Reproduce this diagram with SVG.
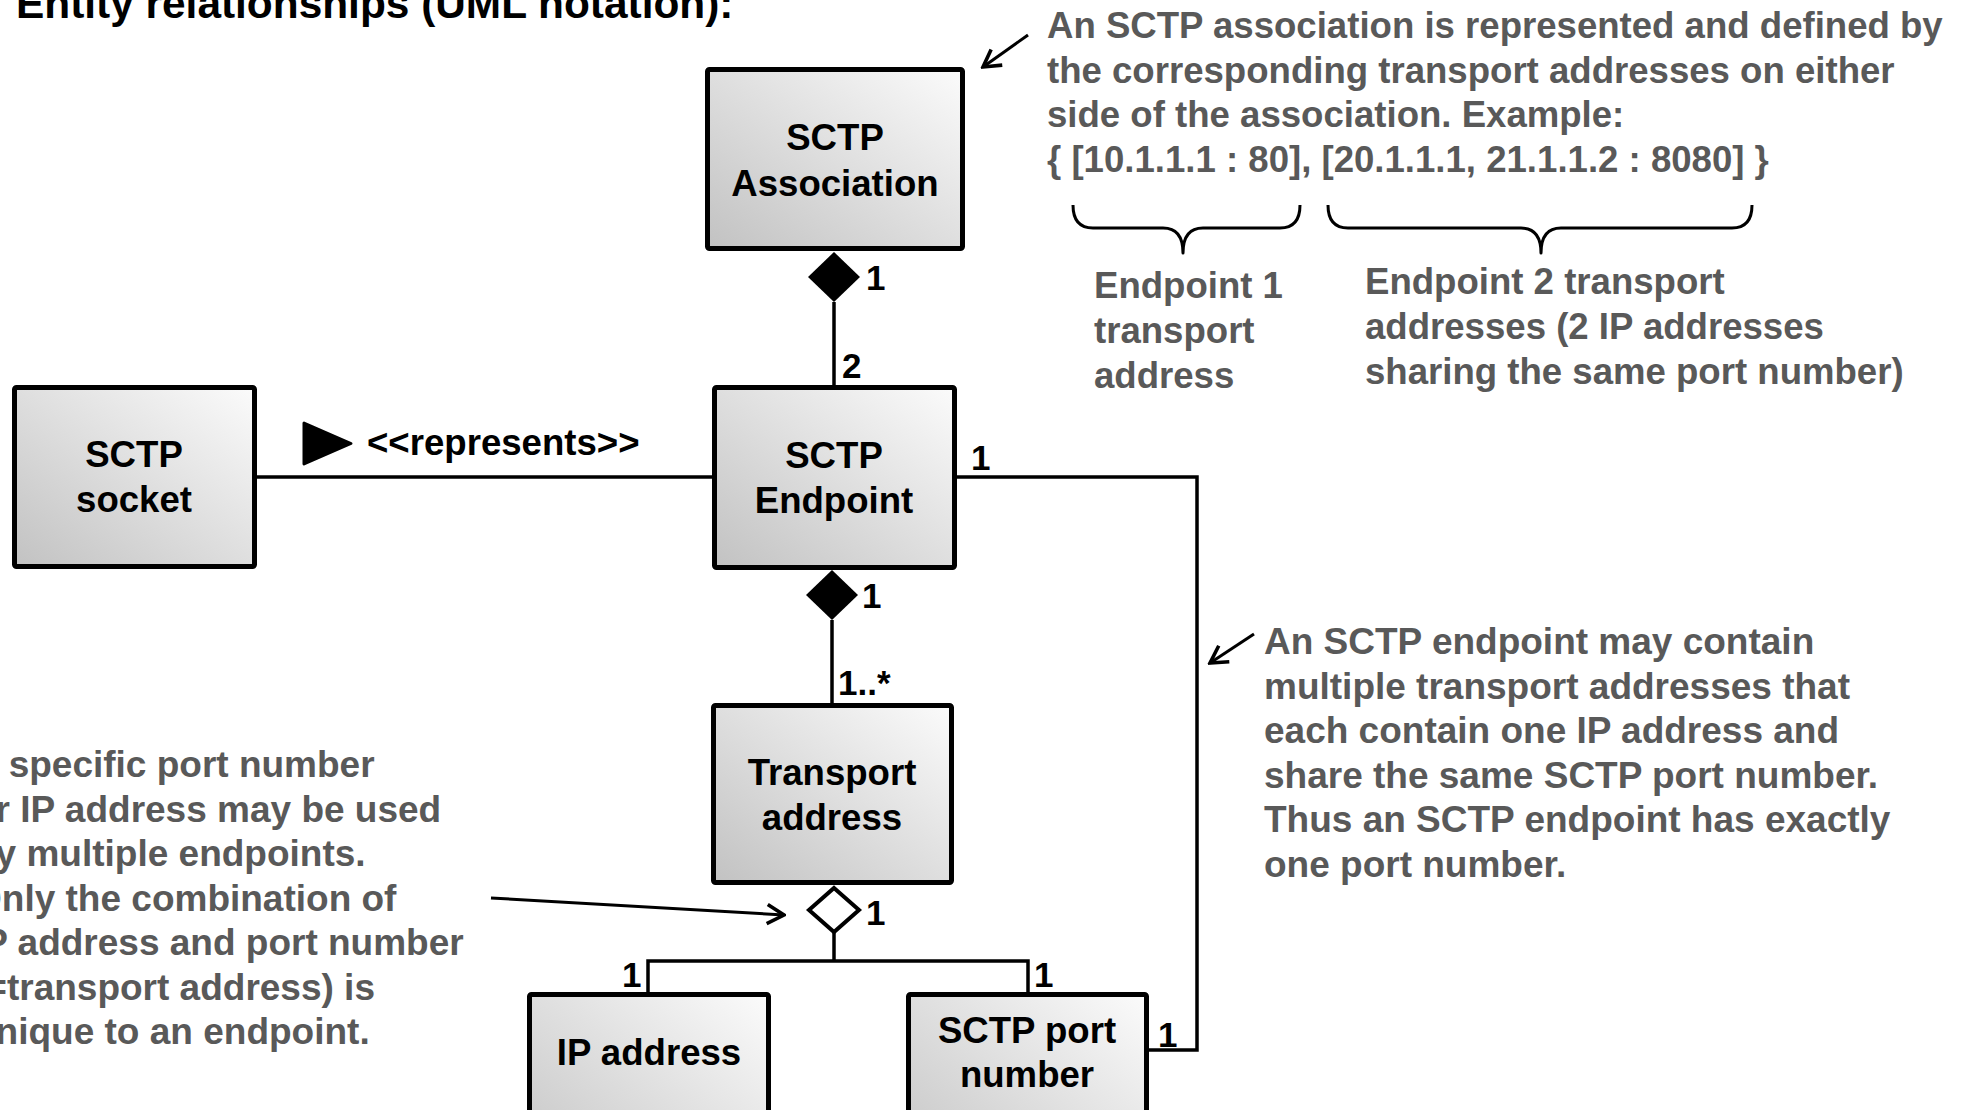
<svg xmlns="http://www.w3.org/2000/svg" width="1970" height="1110" viewBox="0 0 1970 1110">
  <style>
    text { font-family: "Liberation Sans", Arial, sans-serif; font-weight: bold; }
    .box { stroke: #000; stroke-width: 5; fill: url(#boxgrad); }
    .btxt { font-size: 36.6px; fill: #000; text-anchor: middle; }
    .note { font-size: 36.6px; fill: #595959; }
    .note2 { font-size: 37px; fill: #595959; }
    .lbl { font-size: 35px; fill: #000; }
    .line { stroke: #000; stroke-width: 3.5; fill: none; }
    .arr { stroke: #000; stroke-width: 3; fill: none; marker-end: url(#openhead); }
    .brace { stroke: #000; stroke-width: 3; fill: none; stroke-linejoin: round; }
  </style>
  <defs>
    <linearGradient id="boxgrad" x1="1" y1="0" x2="0" y2="1">
      <stop offset="0" stop-color="#fbfbfb"/>
      <stop offset="1" stop-color="#c2c2c2"/>
    </linearGradient>
    <marker id="openhead" markerUnits="userSpaceOnUse" markerWidth="24" markerHeight="24" viewBox="0 0 20 20" refX="18" refY="10" orient="auto">
      <path d="M4,2 L18,10 L4,18" fill="none" stroke="#000" stroke-width="3" stroke-linejoin="miter"/>
    </marker>
  </defs>

  <rect width="1970" height="1110" fill="#fff"/>

  <text x="16" y="18" font-size="42.4" fill="#000">Entity relationships (UML notation):</text>

  <g id="connectors">
    <!-- Association - Endpoint composition -->
    <line class="line" x1="834" y1="302" x2="834" y2="386"/>
    <polygon points="834,252 860,277 834,302 808,277" fill="#000"/>
    <text class="lbl" x="866" y="290">1</text>
    <text class="lbl" x="842" y="378">2</text>

    <!-- Endpoint - Transport address composition -->
    <line class="line" x1="832" y1="620" x2="832" y2="704"/>
    <polygon points="832,570 858,595 832,620 806,595" fill="#000"/>
    <text class="lbl" x="862" y="608">1</text>
    <text class="lbl" x="838" y="695">1..*</text>

    <!-- Socket represents Endpoint -->
    <line class="line" x1="257" y1="477" x2="712" y2="477"/>
    <polygon points="304,423 351,443.5 304,464" fill="#000" stroke="#000" stroke-width="3" stroke-linejoin="round"/>
    <text x="367" y="455" font-size="36.6" fill="#000">&lt;&lt;represents&gt;&gt;</text>

    <!-- Endpoint - SCTP port number -->
    <polyline class="line" points="957,477 1197,477 1197,1050 1149,1050"/>
    <text class="lbl" x="971" y="470">1</text>
    <text class="lbl" x="1158" y="1047">1</text>

    <!-- Transport address aggregation -->
    <polyline class="line" points="648,992 648,961 1028,961 1028,992"/>
    <line class="line" x1="834" y1="932" x2="834" y2="961"/>
    <polygon points="834,888 859,910 834,932 809,910" fill="#fff" stroke="#000" stroke-width="4"/>
    <text class="lbl" x="866" y="925">1</text>
    <text class="lbl" x="622" y="987">1</text>
    <text class="lbl" x="1034" y="987">1</text>

    <!-- note arrows -->
    <line class="arr" x1="1028" y1="35" x2="983" y2="67"/>
    <line class="arr" x1="1254" y1="634" x2="1210" y2="663"/>
    <line class="arr" x1="491" y1="898" x2="784" y2="915"/>
  </g>

  <g id="sctp-association">
    <rect class="box" x="707.5" y="69.5" width="255" height="179" rx="2"/>
    <text class="btxt" x="835" y="150">SCTP</text>
    <text class="btxt" x="835" y="196">Association</text>
  </g>

  <g id="sctp-endpoint">
    <rect class="box" x="714.5" y="387.5" width="240" height="180" rx="2"/>
    <text class="btxt" x="834" y="468">SCTP</text>
    <text class="btxt" x="834" y="513">Endpoint</text>
  </g>

  <g id="sctp-socket">
    <rect class="box" x="14.5" y="387.5" width="240" height="179" rx="2"/>
    <text class="btxt" x="134" y="467">SCTP</text>
    <text class="btxt" x="134" y="512">socket</text>
  </g>

  <g id="transport-address">
    <rect class="box" x="713.5" y="705.5" width="238" height="177" rx="2"/>
    <text class="btxt" x="832" y="785">Transport</text>
    <text class="btxt" x="832" y="830">address</text>
  </g>

  <g id="ip-address">
    <rect class="box" x="529.5" y="994.5" width="239" height="200" rx="2"/>
    <text class="btxt" x="649" y="1065">IP address</text>
  </g>

  <g id="sctp-port-number">
    <rect class="box" x="908.5" y="994.5" width="238" height="200" rx="2"/>
    <text class="btxt" x="1027" y="1043">SCTP port</text>
    <text class="btxt" x="1027" y="1087">number</text>
  </g>

  <g id="note-association">
    <text class="note" x="1047" y="38">An SCTP association is represented and defined by</text>
    <text class="note" x="1047" y="83">the corresponding transport addresses on either</text>
    <text class="note" x="1047" y="127">side of the association. Example:</text>
    <text class="note" x="1047" y="172">{ [10.1.1.1 : 80], [20.1.1.1, 21.1.1.2 : 8080] }</text>
    <path class="brace" d="M1073,205 Q1073,228 1093,228 L1163,228 Q1183,228 1183,253 Q1183,228 1203,228 L1280,228 Q1300,228 1300,205"/>
    <path class="brace" d="M1328,205 Q1328,228 1348,228 L1521,228 Q1541,228 1541,253 Q1541,228 1561,228 L1732,228 Q1752,228 1752,205"/>
    <text class="note" x="1094" y="298">Endpoint 1</text>
    <text class="note" x="1094" y="343">transport</text>
    <text class="note" x="1094" y="388">address</text>
    <text class="note" x="1365" y="294">Endpoint 2 transport</text>
    <text class="note" x="1365" y="339">addresses (2 IP addresses</text>
    <text class="note" x="1365" y="384">sharing the same port number)</text>
  </g>

  <g id="note-endpoint">
    <text class="note2" x="1264" y="654">An SCTP endpoint may contain</text>
    <text class="note2" x="1264" y="698.5">multiple transport addresses that</text>
    <text class="note2" x="1264" y="743">each contain one IP address and</text>
    <text class="note2" x="1264" y="787.5">share the same SCTP port number.</text>
    <text class="note2" x="1264" y="832">Thus an SCTP endpoint has exactly</text>
    <text class="note2" x="1264" y="876.5">one port number.</text>
  </g>

  <g id="note-port">
    <text class="note2" x="-27" y="777">A specific port number</text>
    <text class="note2" x="-27" y="821.5">or IP address may be used</text>
    <text class="note2" x="-27" y="866">by multiple endpoints.</text>
    <text class="note2" x="-27" y="910.5">Only the combination of</text>
    <text class="note2" x="-27" y="955">IP address and port number</text>
    <text class="note2" x="-27" y="999.5">(=transport address) is</text>
    <text class="note2" x="-27" y="1044">unique to an endpoint.</text>
  </g>
</svg>
